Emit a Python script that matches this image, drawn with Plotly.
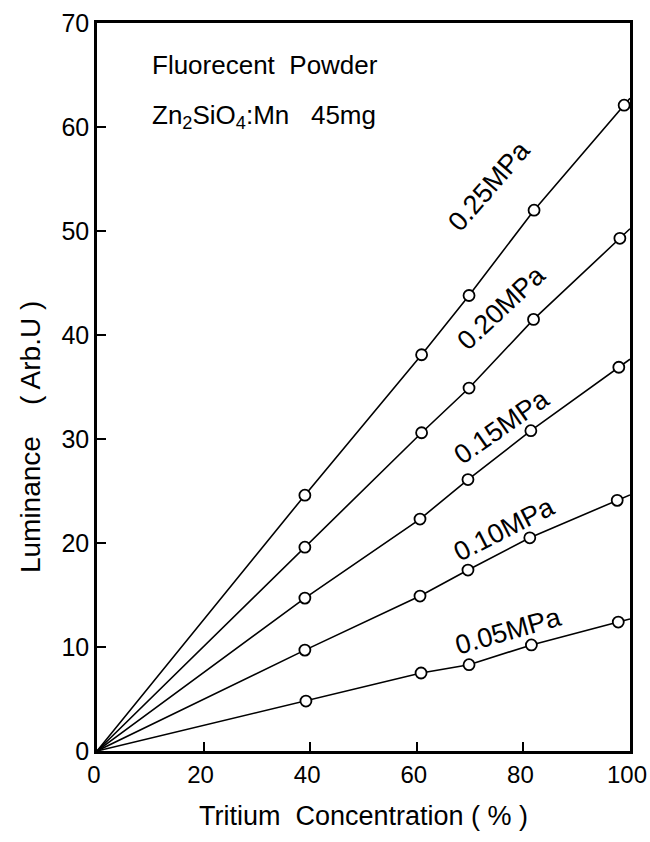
import plotly.graph_objects as go

pressures = ["0.05MPa", "0.10MPa", "0.15MPa", "0.20MPa", "0.25MPa"]
x_05 = [39.2, 60.8, 69.8, 81.5, 97.8]
y_05 = [4.8, 7.5, 8.3, 10.2, 12.4]
x_10 = [39.0, 60.6, 69.6, 81.2, 97.6]
y_10 = [9.7, 14.9, 17.4, 20.5, 24.1]
x_15 = [39.0, 60.6, 69.6, 81.4, 97.9]
y_15 = [14.7, 22.3, 26.1, 30.8, 36.9]
x_20 = [39.0, 60.9, 69.8, 81.9, 98.1]
y_20 = [19.6, 30.6, 34.9, 41.5, 49.3]
x_25 = [39.0, 60.9, 69.8, 82.0, 98.9]
y_25 = [24.6, 38.1, 43.8, 52.0, 62.1]

label_x = [77.2, 76.5, 75.8, 75.8, 73.6]
label_y = [11.5, 21.3, 31.2, 42.6, 54.3]
label_angle = [-16, -27, -35, -43, -49]

xs_all = [x_05, x_10, x_15, x_20, x_25]
ys_all = [y_05, y_10, y_15, y_20, y_25]

x_ticks = [0, 20, 40, 60, 80, 100]
y_ticks = [0, 10, 20, 30, 40, 50, 60, 70]

FONT = "Liberation Sans"
fig = go.Figure()

for name, xs, ys in zip(pressures, xs_all, ys_all):
    # extend last segment to the right frame (x=100)
    slope = (ys[-1] - ys[-2]) / (xs[-1] - xs[-2])
    y_end = ys[-1] + slope * (100 - xs[-1])
    fig.add_trace(go.Scatter(
        x=[0] + xs + [100], y=[0] + ys + [y_end], mode="lines",
        line=dict(color="black", width=1.6), showlegend=False, hoverinfo="skip"))
    fig.add_trace(go.Scatter(
        x=xs, y=ys, mode="markers", name=name, showlegend=False,
        marker=dict(symbol="circle", size=11, color="white",
                    line=dict(color="black", width=1.8)),
        cliponaxis=False))

for name, lx, ly, ang in zip(pressures, label_x, label_y, label_angle):
    fig.add_annotation(x=lx, y=ly, text=name, showarrow=False, textangle=ang,
                       font=dict(family=FONT, size=27, color="black"))

fig.add_annotation(x=0.1, y=0.942, xref="paper", yref="paper", xanchor="left",
                   yanchor="middle", text="Fluorecent  Powder", showarrow=False,
                   font=dict(family=FONT, size=26, color="black"))
fig.add_annotation(x=0.1, y=0.871, xref="paper", yref="paper", xanchor="left",
                   yanchor="middle",
                   text="Zn<sub>2</sub>SiO<sub>4</sub>:Mn   45mg", showarrow=False,
                   font=dict(family=FONT, size=26, color="black"))

fig.add_annotation(x=-0.126, y=0.431, xref="paper", yref="paper",
                   xanchor="center", yanchor="middle",
                   text="Luminance    ( Arb.U )", showarrow=False, textangle=-90,
                   font=dict(family=FONT, size=28, color="black"))

fig.update_xaxes(range=[0, 100], tickvals=x_ticks, ticktext=[str(v) for v in x_ticks],
                 showline=True, linecolor="black", linewidth=2.5, mirror=True,
                 ticks="inside", ticklen=9, tickwidth=1.8, tickcolor="black",
                 showgrid=False, zeroline=False, ticklabeloverflow="allow",
                 automargin=False, ticklabelshift=-3,
                 tickfont=dict(family=FONT, size=24, color="black"),
                 title=dict(text="Tritium  Concentration ( % )", standoff=20,
                            font=dict(family=FONT, size=27, color="black")))
fig.update_yaxes(range=[0, 70], tickvals=y_ticks, ticktext=[str(v) for v in y_ticks],
                 showline=True, linecolor="black", linewidth=2.5, mirror=True,
                 ticks="inside", ticklen=9, tickwidth=1.8, tickcolor="black",
                 showgrid=False, zeroline=False, ticklabeloverflow="allow",
                 automargin=False,
                 tickfont=dict(family=FONT, size=25, color="black"))

fig.update_layout(width=650, height=842, paper_bgcolor="white", plot_bgcolor="white",
                  margin=dict(l=97, r=20, t=23, b=91), showlegend=False)

fig.write_html("out.html")
